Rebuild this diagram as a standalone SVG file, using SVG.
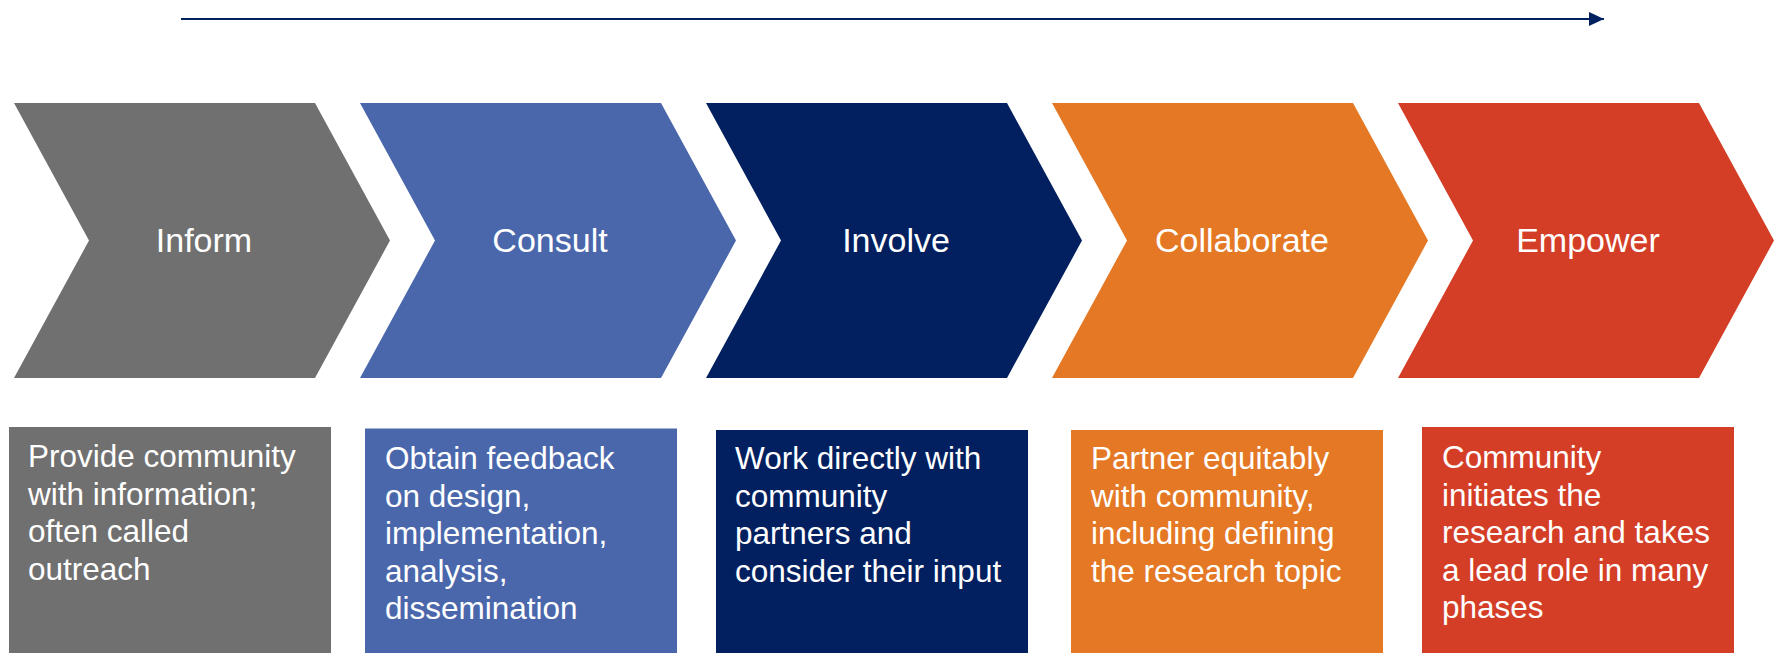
<svg xmlns="http://www.w3.org/2000/svg" width="1774" height="653" viewBox="0 0 1774 653">
<defs>
<marker id="arrow" markerUnits="userSpaceOnUse" markerWidth="15" markerHeight="14" refX="15" refY="7" orient="auto">
<path d="M0,0 L15,7 L0,14 Z" fill="#002060"/>
</marker>
<style>
.lbl{font-family:"Liberation Sans",Arial,sans-serif;font-size:34px;fill:#ffffff;text-anchor:middle}
.desc{font-family:"Liberation Sans",Arial,sans-serif;font-size:31.5px;fill:#ffffff}
.gray{fill:#707070}
.blue{fill:#4A67AC}
.navy{fill:#02205F}
.orange{fill:#E47824}
.red{fill:#D43E26}
</style>
</defs>
<rect width="1774" height="653" fill="#ffffff"/>
<g id="connectors">
<line x1="181" y1="19" x2="1604" y2="19" stroke="#002060" stroke-width="2.2" marker-end="url(#arrow)"/>
</g>
<g id="inform">
<polygon class="gray" points="14,103 315,103 390,240.5 315,378 14,378 89,240.5"/>
<text class="lbl" x="204" y="252">Inform</text>
</g>
<g id="consult">
<polygon class="blue" points="360,103 661,103 736,240.5 661,378 360,378 435,240.5"/>
<text class="lbl" x="550" y="252">Consult</text>
</g>
<g id="involve">
<polygon class="navy" points="706,103 1007,103 1082,240.5 1007,378 706,378 781,240.5"/>
<text class="lbl" x="896" y="252">Involve</text>
</g>
<g id="collaborate">
<polygon class="orange" points="1052,103 1353,103 1428,240.5 1353,378 1052,378 1127,240.5"/>
<text class="lbl" x="1242" y="252">Collaborate</text>
</g>
<g id="empower">
<polygon class="red" points="1398,103 1699,103 1774,240.5 1699,378 1398,378 1473,240.5"/>
<text class="lbl" x="1588" y="252">Empower</text>
</g>
<g id="inform-desc">
<rect class="gray" x="9" y="427" width="322" height="226"/>
<text class="desc" x="28" y="467"><tspan x="28">Provide community</tspan><tspan x="28" dy="37.5">with information;</tspan><tspan x="28" dy="37.5">often called</tspan><tspan x="28" dy="37.5">outreach</tspan></text>
</g>
<g id="consult-desc">
<rect class="blue" x="365" y="428.5" width="312" height="224.5"/>
<text class="desc" x="385" y="469"><tspan x="385">Obtain feedback</tspan><tspan x="385" dy="37.5">on design,</tspan><tspan x="385" dy="37.5">implementation,</tspan><tspan x="385" dy="37.5">analysis,</tspan><tspan x="385" dy="37.5">dissemination</tspan></text>
</g>
<g id="involve-desc">
<rect class="navy" x="716" y="430" width="312" height="223"/>
<text class="desc" x="735" y="469"><tspan x="735">Work directly with</tspan><tspan x="735" dy="37.5">community</tspan><tspan x="735" dy="37.5">partners and</tspan><tspan x="735" dy="37.5">consider their input</tspan></text>
</g>
<g id="collaborate-desc">
<rect class="orange" x="1071" y="430" width="312" height="223"/>
<text class="desc" x="1091" y="469"><tspan x="1091">Partner equitably</tspan><tspan x="1091" dy="37.5">with community,</tspan><tspan x="1091" dy="37.5">including defining</tspan><tspan x="1091" dy="37.5">the research topic</tspan></text>
</g>
<g id="empower-desc">
<rect class="red" x="1422" y="427" width="312" height="226"/>
<text class="desc" x="1442" y="468"><tspan x="1442">Community</tspan><tspan x="1442" dy="37.5">initiates the</tspan><tspan x="1442" dy="37.5">research and takes</tspan><tspan x="1442" dy="37.5">a lead role in many</tspan><tspan x="1442" dy="37.5">phases</tspan></text>
</g>
</svg>
